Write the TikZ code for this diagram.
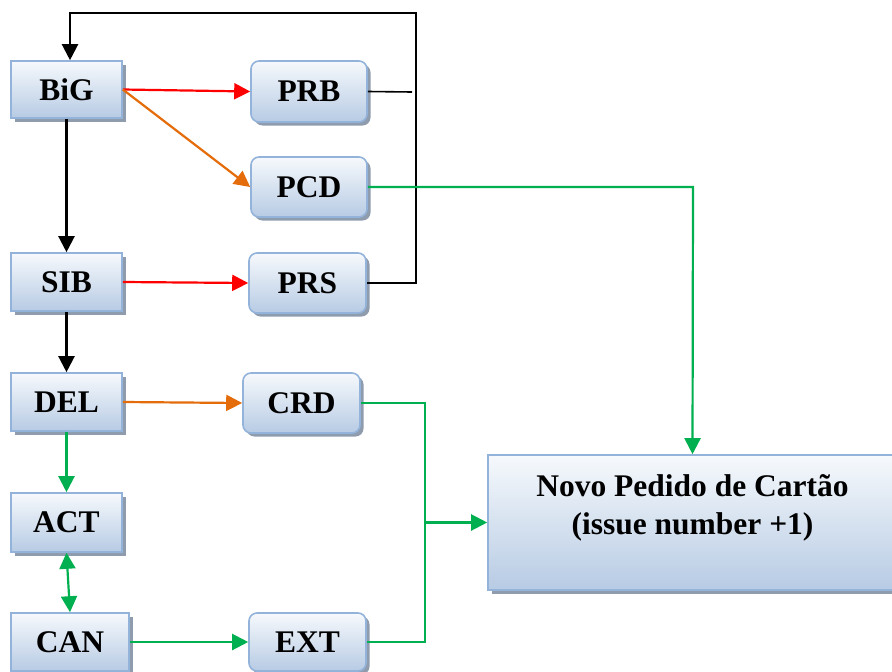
\documentclass[tikz,border=0pt]{standalone}
\usepackage{fontspec}
\setmainfont{Liberation Serif}
\usetikzlibrary{arrows.meta,shadows}

\definecolor{boxline}{HTML}{93B3DA}
\definecolor{boxtop}{HTML}{F6F9FC}
\definecolor{boxbot}{HTML}{B7CBE4}
\definecolor{shadowc}{HTML}{8E9CAE}
\definecolor{redline}{HTML}{FF0000}
\definecolor{orangeline}{HTML}{E46C0A}
\definecolor{greenline}{HTML}{00B050}

\tikzset{
  box/.style={draw=boxline, line width=1.6pt, top color=boxtop, bottom color=boxbot,
    font=\bfseries\fontsize{31.5}{36}\selectfont, inner sep=0pt,
    drop shadow={shadow xshift=3.5pt, shadow yshift=-3.5pt, fill=shadowc, opacity=1}},
  rbox/.style={box, rounded corners=8pt},
  link/.style={line width=2.2pt, ->},
  plain/.style={line width=2.2pt},
}

\begin{document}
\begin{tikzpicture}[x=1pt, y=-1pt, >={Triangle[length=16pt,width=16pt]}]
  \useasboundingbox[fill=white] (0,0) rectangle (892,672);

  % left column
  \node[box, minimum width=111pt, minimum height=57pt] (BiG) at (66.5,89.5) {BiG};
  \node[box, minimum width=111pt, minimum height=58pt] (SIB) at (66.5,282) {SIB};
  \node[box, minimum width=111pt, minimum height=58pt] (DEL) at (66.5,402) {DEL};
  \node[box, minimum width=111pt, minimum height=59pt] (ACT) at (66.5,522.5) {ACT};
  \node[box, minimum width=118pt, minimum height=58pt] (CAN) at (70,642) {CAN};

  % middle column
  \node[rbox, minimum width=116pt, minimum height=61pt] (PRB) at (309,91.5) {PRB};
  \node[rbox, minimum width=116pt, minimum height=60pt] (PCD) at (309,187) {PCD};
  \node[rbox, minimum width=117pt, minimum height=60pt] (PRS) at (307.5,283) {PRS};
  \node[rbox, minimum width=117pt, minimum height=60pt] (CRD) at (301.5,403) {CRD};
  \node[rbox, minimum width=117pt, minimum height=58pt] (EXT) at (307.5,642) {EXT};

  % target box
  \node[box, minimum width=409pt, minimum height=135pt] (Novo) at (692.5,522.5) {};
  \node[font=\bfseries\fontsize{31.5}{38}\selectfont, align=center, inner sep=0pt]
    (NovoText) at (692.5,508) {Novo Pedido de Cartão\\(issue number +1)};

  % routing points
  \coordinate (tr) at (416,13);
  \coordinate (tl) at (70,13);
  \coordinate (prbend) at (412,92);
  \coordinate (gx) at (425,403);
  \coordinate (pcdx) at (693,187);

  % black feedback loop
  \draw[line width=1.6pt] (PRB.east) -- (prbend);
  \draw[link] (PRS.east) -- (tr |- PRS.east) -- (tr) -- (tl) -- (tl |- BiG.north);

  % black flow down the left column
  \draw[link] (BiG.south) -- (SIB.north);
  \draw[link] (SIB.south) -- (DEL.north);

  % red and orange branches
  \draw[link, redline] (BiG.east) -- (PRB.west);
  \draw[link, orangeline] (BiG.east) -- (PCD.west);
  \draw[link, redline] (SIB.east) -- (PRS.west);
  \draw[link, orangeline] (DEL.east) -- (CRD.west);

  % green flows
  \draw[link, greenline] (DEL.south) -- (ACT.north);
  \draw[plain, greenline, <->] (ACT.south) -- (CAN.north);
  \draw[link, greenline] (CAN.east) -- (EXT.west);
  \draw[plain, greenline] (CRD.east) -- (gx) -- (gx |- EXT.east) -- (EXT.east);
  \draw[link, greenline] (gx |- Novo.west) -- (Novo.west);
  \draw[link, greenline] (PCD.east) -- (pcdx) -- (Novo.north);
\end{tikzpicture}
\end{document}
